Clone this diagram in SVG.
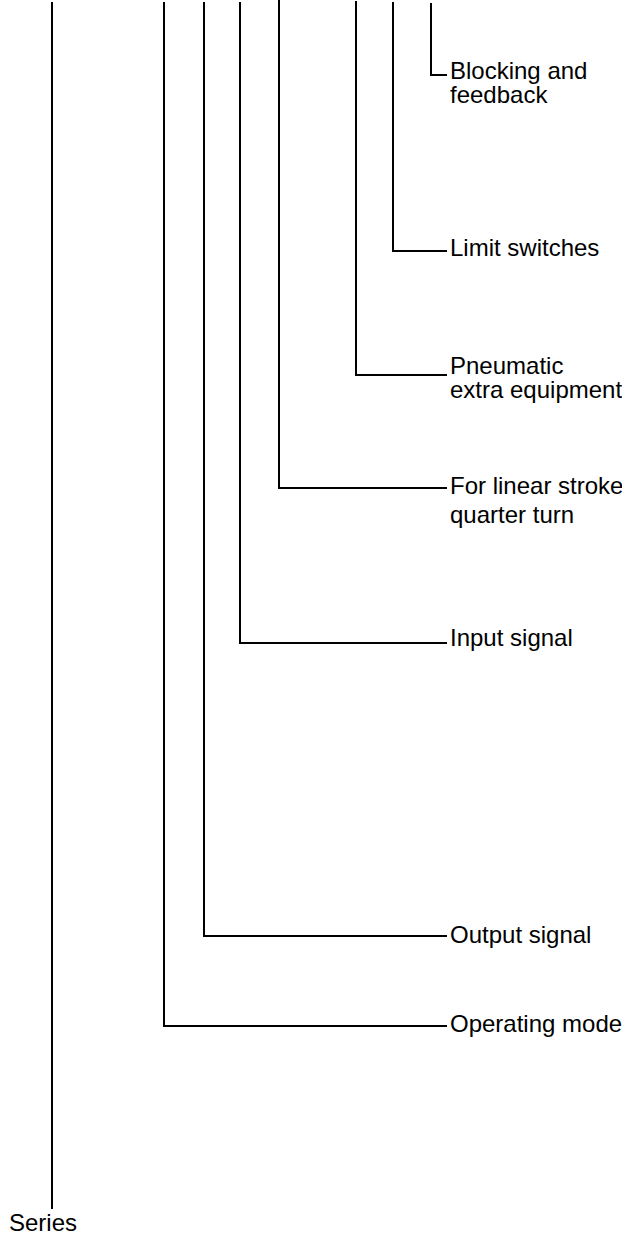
<svg xmlns="http://www.w3.org/2000/svg" width="622" height="1236" viewBox="0 0 622 1236">
<style>
.c{fill:none;stroke:#000;stroke-width:2;stroke-linejoin:miter;stroke-linecap:butt}
.t{font-family:"Liberation Sans",Arial,sans-serif;font-size:24px;fill:#000}
</style>
<rect width="622" height="1236" fill="#fff"/>
<g id="connectors">
<polyline class="c" points="52,2 52,1209"/>
<polyline class="c" points="164,2 164,1026 447,1026"/>
<polyline class="c" points="204,2 204,936 447,936"/>
<polyline class="c" points="240,2 240,643 447,643"/>
<polyline class="c" points="279,0 279,488 447,488"/>
<polyline class="c" points="356,1 356,375 447,375"/>
<polyline class="c" points="393,2 393,251 447,251"/>
<polyline class="c" points="431,3 431,75 447,75"/>
</g>
<g id="series"><text class="t" x="9" y="1231">Series</text></g>
<g id="operating-mode"><text class="t" x="450" y="1032">Operating mode</text></g>
<g id="output-signal"><text class="t" x="450" y="943">Output signal</text></g>
<g id="input-signal"><text class="t" x="450" y="646">Input signal</text></g>
<g id="linear-stroke"><text class="t" x="450" y="494">For linear stroke<tspan x="450" y="523">quarter turn</tspan></text></g>
<g id="pneumatic"><text class="t" x="450" y="374">Pneumatic<tspan x="450" y="398">extra equipment</tspan></text></g>
<g id="limit-switches"><text class="t" x="450" y="256">Limit switches</text></g>
<g id="blocking"><text class="t" x="450" y="79">Blocking and<tspan x="450" y="103">feedback</tspan></text></g>
</svg>
